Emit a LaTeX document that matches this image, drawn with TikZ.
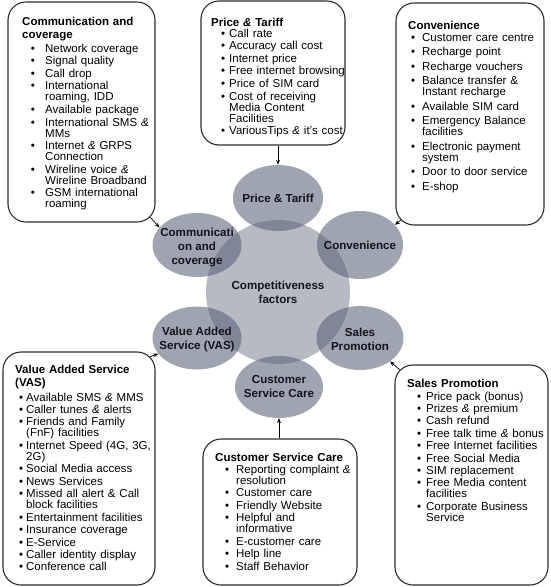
\documentclass[tikz,border=0pt]{standalone}
\usepackage{fontspec}
\setmainfont{Liberation Sans}
\usetikzlibrary{shapes.geometric,arrows.meta}
\definecolor{ellc}{RGB}{88,99,120}
\definecolor{ink}{RGB}{20,20,30}
\definecolor{bord}{RGB}{45,45,45}
\newlength\hangw \newlength\bulx \newlength\igap
\newcommand\itm[1]{\par\vskip\igap\hangindent=\hangw\hangafter=1\noindent\hbox to\hangw{\hskip\bulx\textbullet\hfil}#1\par}
\newcommand\ttl[2]{{\bfseries\baselineskip=13pt\noindent #1\par}\vskip\dimexpr#2-11pt-\igap\relax}
\newcommand\amp{\textit{\&}}
\newcommand\boxpar[3]{\raggedright\setlength\hangw{#1}\setlength\bulx{#2}\setlength\igap{#3}}
\tikzset{
 bx/.style={draw=bord, line width=1.1pt, rounded corners=18pt, inner sep=0pt},
 ell/.style={ellipse, fill=ellc, fill opacity=.58, inner sep=0pt},
 ctr/.style={circle, fill=ellc, fill opacity=.44, inner sep=0pt, minimum size=144pt},
 elab/.style={font=\fontsize{11.6}{14}\selectfont\bfseries, text=ink, align=center, inner sep=0pt},
 txt/.style={font=\fontsize{11.5}{11}\selectfont, text=black, text width=200pt, inner sep=0pt, anchor=base west},
 arr/.style={-{Stealth[length=5pt,width=4pt]}, line width=0.7pt, black},
}
\begin{document}
\begin{tikzpicture}[x=1pt,y=-1pt]
\path[fill=white, use as bounding box] (0,0) rectangle (550,587);

% ellipses
\node[ctr] (cf) at (278,292) {};
\node[ell, minimum width=90pt, minimum height=66pt] (price) at (278,198) {};
\node[ell, minimum width=89pt, minimum height=64pt] (comm) at (197,245) {};
\node[ell, minimum width=86pt, minimum height=68pt] (conv) at (360,245) {};
\node[ell, minimum width=89pt, minimum height=63pt] (vas) at (197,338) {};
\node[ell, minimum width=87pt, minimum height=64pt] (sales) at (360,338) {};
\node[ell, minimum width=88pt, minimum height=62pt] (csc) at (279,387) {};

% ellipse labels
\node[elab] (cfl) at (cf) {Competitiveness\\factors};
\node[elab] (pricel) at (price) {Price \& Tariff};
\node[elab] (comml) at ([yshift=-3pt]comm.center) {Communicati\\on and\\coverage};
\node[elab] (convl) at (conv) {Convenience};
\node[elab] (vasl) at ([yshift=-1pt]vas.center) {Value Added\\Service (VAS)};
\node[elab] (salesl) at ([yshift=-1pt]sales.center) {Sales\\Promotion};
\node[elab] (cscl) at (csc) {Customer\\Service Care};

% boxes
\node[bx, minimum width=147pt, minimum height=220pt] (b1) at (81.5,112) {};
\node[bx, minimum width=144pt, minimum height=144pt] (b2) at (273,73) {};
\node[bx, minimum width=148pt, minimum height=222pt] (b3) at (470,114) {};
\node[bx, minimum width=152pt, minimum height=233pt] (b5) at (79,468.5) {};
\node[bx, minimum width=154pt, minimum height=146pt] (b6) at (280,512) {};
\node[bx, minimum width=153pt, minimum height=220pt] (b7) at (471.5,475) {};

% box texts
\node[txt] (t1) at (22,25) {\boxpar{23pt}{8.7pt}{1.6pt}%
\ttl{Communication and\newline coverage}{14pt}%
\itm{Network coverage}%
\itm{Signal quality}%
\itm{Call drop}%
\itm{International\newline roaming, IDD}%
\itm{Available package}%
\itm{International SMS \amp\newline MMs}%
\itm{Internet \amp{} GRPS\newline Connection}%
\itm{Wireline voice \amp\newline Wireline Broadband}%
\itm{GSM international\newline roaming}};

\node[txt] (t2) at (211,26) {\boxpar{18pt}{10pt}{1.65pt}%
\ttl{Price \amp{} Tariff}{11pt}%
\itm{Call rate}%
\itm{Accuracy call cost}%
\itm{Internet price}%
\itm{Free internet browsing}%
\itm{Price of SIM card}%
\itm{Cost of receiving\newline Media Content\newline Facilities}%
\itm{VariousTips \amp{} it's cost}};

\node[txt] (t3) at (408,29) {\boxpar{14pt}{3pt}{3.5pt}%
\ttl{Convenience}{12pt}%
\itm{Customer care centre}%
\itm{Recharge point}%
\itm{Recharge vouchers}%
\itm{Balance transfer \&\newline Instant recharge}%
\itm{Available SIM card}%
\itm{Emergency Balance\newline facilities}%
\itm{Electronic payment\newline system}%
\itm{Door to door service}%
\itm{E-shop}};

\node[txt] (t5) at (15,373) {\boxpar{11pt}{4pt}{1.45pt}%
\ttl{Value Added Service\newline (VAS)}{15pt}%
\itm{Available SMS \amp{} MMS}%
\itm{Caller tunes \amp{} alerts}%
\itm{Friends and Family\newline (FnF) facilities}%
\itm{Internet Speed (4G, 3G,\newline 2G)}%
\itm{Social Media access}%
\itm{News Services}%
\itm{Missed all alert \& Call\newline block facilities}%
\itm{Entertainment facilities}%
\itm{Insurance coverage}%
\itm{E-Service}%
\itm{Caller identity display}%
\itm{Conference call}};

\node[txt] (t6) at (215,461) {\boxpar{21pt}{10pt}{1.5pt}%
\ttl{Customer Service Care}{12pt}%
\itm{Reporting complaint \amp\newline resolution}%
\itm{Customer care}%
\itm{Friendly Website}%
\itm{Helpful and\newline informative}%
\itm{E-customer care}%
\itm{Help line}%
\itm{Staff Behavior}};

\node[txt] (t7) at (407,387) {\boxpar{19pt}{10pt}{1.4pt}%
\ttl{Sales Promotion}{13pt}%
\itm{Price pack (bonus)}%
\itm{Prizes \amp{} premium}%
\itm{Cash refund}%
\itm{Free talk time \amp{} bonus}%
\itm{Free Internet facilities}%
\itm{Free Social Media}%
\itm{SIM replacement}%
\itm{Free Media content\newline facilities}%
\itm{Corporate Business\newline Service}};

% connectors
\draw[arr] ([shift={(-5.3pt,5.3pt)}]b1.south east) -- (comm.155);
\draw[arr] (b2.south -| price.north) -- (price.north);
\draw[arr] ([shift={(5.3pt,5.3pt)}]b3.south west) -- (conv.30);
\draw[arr] ([shift={(-5.3pt,-5.3pt)}]b5.north east) -- (vas.202);
\draw[arr] (b6.north -| csc.south) -- (csc.south);
\draw[arr] ([shift={(5.3pt,-5.3pt)}]b7.north west) -- (sales.-38);
\end{tikzpicture}
\end{document}
